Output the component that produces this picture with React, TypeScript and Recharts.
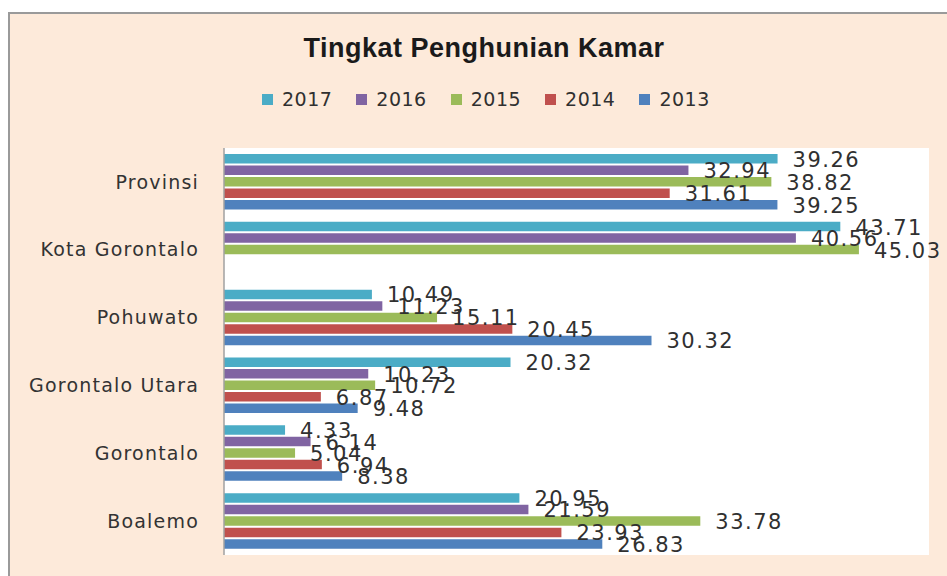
import { BarChart, Bar, XAxis, YAxis, CartesianGrid, LabelList } from "recharts"

const categories = ["Provinsi", "Kota Gorontalo", "Pohuwato", "Gorontalo Utara", "Gorontalo", "Boalemo"]
const years = ["2017", "2016", "2015", "2014", "2013"]
const v2017 = [39.26, 43.71, 10.49, 20.32, 4.33, 20.95]
const v2016 = [32.94, 40.56, 11.23, 10.23, 6.14, 21.59]
const v2015 = [38.82, 45.03, 15.11, 10.72, 5.04, 33.78]
const v2014 = [31.61, null, 20.45, 6.87, 6.94, 23.93]
const v2013 = [39.25, null, 30.32, 9.48, 8.38, 26.83]
const colors = ["#4BACC6", "#8064A2", "#9BBB59", "#C0504D", "#4F81BD"]

const series = [v2017, v2016, v2015, v2014, v2013]

const data = categories.map((name, i) => {
  const row: Record<string, string | number | null> = { name }
  years.forEach((y, k) => {
    row[y] = series[k][i]
  })
  return row
})

const valueLabel = (props: any) => {
  const vb = props.viewBox || {}
  const x = vb.x ?? props.x
  const y = vb.y ?? props.y
  const w = vb.width ?? props.width
  const h = vb.height ?? props.height
  if (props.value == null) return null
  return (
    <text
      x={x + w + 15}
      y={y + h / 2 + 1}
      dominantBaseline="central"
      fill="#303030"
      fontFamily="DejaVu Sans"
      fontSize={21}
      letterSpacing={1.5}
    >
      {props.value.toFixed(2)}
    </text>
  )
}

export default function App() {
  return (
    <div style={{ position: "absolute", left: 0, top: 0, width: 947, height: 576, background: "#fff", overflow: "hidden" }}>
      <div
        style={{
          position: "absolute",
          left: 8,
          top: 12,
          width: 945,
          height: 570,
          background: "#FDEADA",
          borderLeft: "2px solid #9a9a9a",
          borderTop: "2px solid #9a9a9a",
        }}
      />
      <div
        style={{
          position: "absolute",
          left: 0,
          top: 33,
          width: 968,
          textAlign: "center",
          fontFamily: "Liberation Sans",
          fontWeight: "bold",
          fontSize: 27,
          letterSpacing: 0.5,
          color: "#1a1a1a",
        }}
      >
        Tingkat Penghunian Kamar
      </div>
      <div
        style={{
          position: "absolute",
          left: 262,
          top: 88,
          display: "flex",
          gap: 24,
          fontFamily: "DejaVu Sans",
          fontSize: 19,
          color: "#303030",
        }}
      >
        {years.map((y, k) => (
          <div key={y} style={{ display: "flex", alignItems: "center" }}>
            <span style={{ width: 11, height: 11, background: colors[k], display: "inline-block", marginRight: 9 }} />
            <span style={{ letterSpacing: 0.5 }}>{y}</span>
          </div>
        ))}
      </div>
      <div style={{ position: "absolute", left: 0, top: 0 }}>
        <BarChart
          width={947}
          height={576}
          data={data}
          layout="vertical"
          margin={{ top: 148, right: 18, bottom: 21, left: 0 }}
          barSize={9.5}
          barGap={2}
        >
          <CartesianGrid fill="#ffffff" horizontal={false} vertical={false} />
          <XAxis type="number" domain={[0, 50]} hide />
          <YAxis
            type="category"
            dataKey="name"
            width={224}
            tickLine={false}
            tickSize={0}
            tickMargin={25}
            axisLine={{ stroke: "#a0a0a0", strokeWidth: 1.5 }}
            tick={{ fill: "#333333", fontSize: 19, fontFamily: "DejaVu Sans", letterSpacing: 1.2 }}
          />
          {years.map((y, k) => (
            <Bar key={y} dataKey={y} fill={colors[k]} isAnimationActive={false}>
              <LabelList dataKey={y} content={valueLabel} />
            </Bar>
          ))}
        </BarChart>
      </div>
    </div>
  )
}
